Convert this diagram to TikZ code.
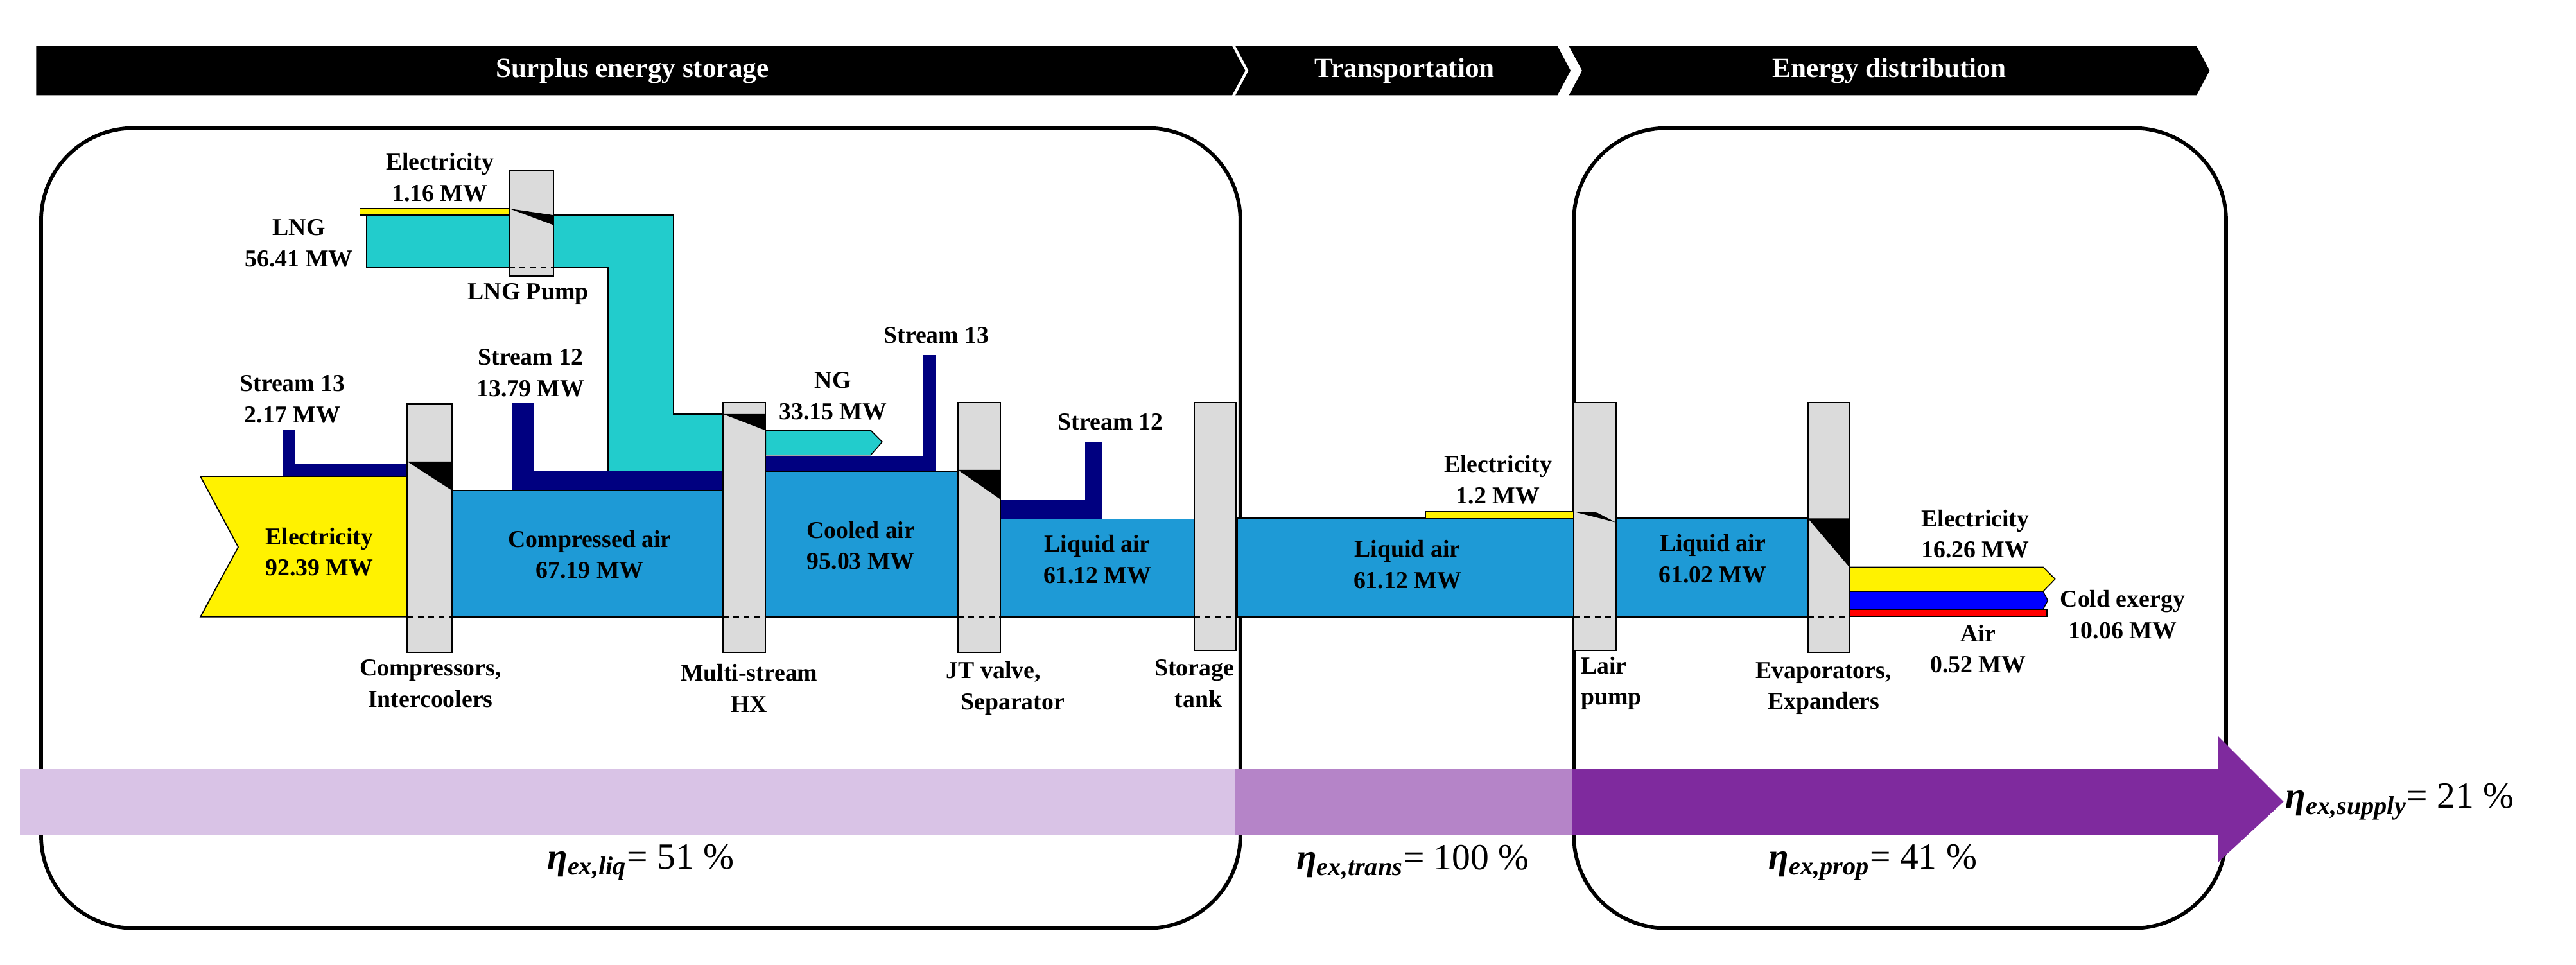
\documentclass[tikz,border=0pt]{standalone}
\usepackage{fontspec}
\setmainfont{Liberation Serif}
\newcommand{\etaq}[1]{{\bfseries\itshape η\textsubscript{#1}}}
\begin{document}
\begin{tikzpicture}[x={(0.025cm,0)},y={(0,-0.025cm)},
  lab/.style={align=center,font=\fontsize{10.5}{13.5}\selectfont\bfseries,inner sep=0pt},
  hdr/.style={font=\fontsize{12}{13}\selectfont\bfseries,text=white},
  eta/.style={font=\fontsize{16}{18}\selectfont,inner sep=0pt},
  col/.style={fill=gray!28,draw=black,line width=0.6pt},
  band/.style={fill=bandblue,draw=black,line width=0.5pt}]
\definecolor{bandblue}{HTML}{1E9AD6}
\definecolor{navy}{HTML}{000080}
\definecolor{cyanf}{HTML}{22CCCC}
\definecolor{p1}{HTML}{D9C3E6}
\definecolor{p2}{HTML}{B584C8}
\definecolor{p3}{HTML}{7F2A9E}
\useasboundingbox (0,0) rectangle (1568,587.4);
% header
\fill (22,28) -- (750,28) -- (758,43) -- (750,58) -- (22,58) -- cycle;
\fill (752,28) -- (948,28) -- (956,43) -- (948,58) -- (752,58) -- (760,43) -- cycle;
\fill (955,28) -- (1337,28) -- (1345,43) -- (1337,58) -- (955,58) -- (963,43) -- cycle;
\node[hdr] (h1) at (385,43) {Surplus energy storage};
\node[hdr] (h2) at (855,43) {Transportation};
\node[hdr] (h3) at (1150,43) {Energy distribution};
% boxes
\draw[line width=1.6pt,rounded corners=40] (25,78) rectangle (755,565);
\draw[line width=1.6pt,rounded corners=40] (958,78) rectangle (1355,565);
% purple arrow
\fill[p1] (12,468) rectangle (752,508);
\fill[p2] (752,468) rectangle (957,508);
\fill[p3] (957,468) -- (1350,468) -- (1350,448) -- (1390,488) -- (1350,525) -- (1350,508) -- (957,508) -- cycle;
% LNG
\fill[yellow] (219,127) rectangle (310,131);
\draw[line width=0.4pt] (219,127) rectangle (310,131);
\fill[cyanf] (223,131) -- (410,131) -- (410,252) -- (440,252) -- (440,287) -- (370,287) -- (370,163) -- (223,163) -- cycle;
\draw[line width=0.5pt] (223,131) -- (410,131) -- (410,252) -- (440,252);
\draw[line width=0.5pt] (223,131) -- (223,163) -- (370,163) -- (370,287);
% stream 13 small
\fill[navy] (172,262) rectangle (179.5,290);
\fill[navy] (172,282) rectangle (248,290);
% stream 12
\fill[navy] (311.6,245) rectangle (325,299);
\fill[navy] (311.6,287) rectangle (440,299);
% NG arrow
\fill[cyanf,draw=black,line width=0.4pt] (466,262) -- (530,262) -- (537,269) -- (530,277) -- (466,277) -- cycle;
% stream 13 after HX
\fill[navy] (466,278) rectangle (570,287);
\fill[navy] (562,216) rectangle (570,287);
% stream 12 after JT
\fill[navy] (609,304) rectangle (670.5,316);
\fill[navy] (660.5,269) rectangle (670.5,316);
% electricity in
\fill[yellow,draw=black,line width=0.5pt] (122,290) -- (248,290) -- (248,375.5) -- (122,375.5) -- (145,333) -- cycle;
% bands
\draw[band] (275,298.5) rectangle (440,375.5);
\draw[band] (466,287) rectangle (583,375.5);
\draw[band] (609,316) rectangle (728,375.5);
\draw[band] (753,315.5) rectangle (958,375.5);
\draw[band] (983.5,315.5) rectangle (1100.4,375.5);
\fill[yellow,draw=black,line width=0.4pt] (867.7,311.5) rectangle (958,315.5);
% outputs
\fill[yellow,draw=black,line width=0.4pt] (1125.7,345.2) -- (1243.6,345.2) -- (1250.9,352.5) -- (1243.6,360) -- (1125.7,360) -- cycle;
\fill[blue,draw=black,line width=0.4pt] (1125.7,360) -- (1243.6,360) -- (1246.5,365.5) -- (1243.6,371) -- (1125.7,371) -- cycle;
\fill[red,draw=black,line width=0.4pt] (1125.7,371) rectangle (1246,375.4);
% columns
\draw[col] (310,104) rectangle (337,168);
\draw[col] (248,246) rectangle (275,397);
\draw[col] (440,245) rectangle (466,397);
\draw[col] (583,245) rectangle (609,397);
\draw[col] (727,245) rectangle (752.5,396);
\draw[col] (958,245) rectangle (983.5,396);
\draw[col] (1100.4,245) rectangle (1125.7,397);
% wedges
\fill (310,127) -- (337,131) -- (337,137) -- cycle;
\fill (248,281) -- (275,281) -- (275,298.5) -- cycle;
\fill (440,252) -- (466,252) -- (466,262) -- cycle;
\fill (583,286) -- (609,286) -- (609,304) -- cycle;
\fill (958,311.5) -- (972,312) -- (983.5,318) -- cycle;
\fill (1100.4,315.5) -- (1125.7,315.5) -- (1125.7,345.2) -- cycle;
% dashed lines in columns
\foreach \a/\b/\yy in {310/337/163,248/275/375.5,440/466/375.5,583/609/375.5,727/752.5/375.5,958/983.5/375.5,1100.4/1125.7/375.5}
  \draw[dash pattern=on 2.5pt off 2pt,line width=0.5pt] (\a,\yy) -- (\b,\yy);
% labels
\node[lab] (l1) at (267.7,108) {Electricity\\1.16 MW};
\node[lab] (l2) at (182,148) {LNG\\56.41 MW};
\node[lab] (l3) at (321.5,179) {LNG Pump};
\node[lab] (l4) at (323,227) {Stream 12\\13.79 MW};
\node[lab] (l5) at (178,243) {Stream 13\\2.17 MW};
\node[lab] (l6) at (507,241) {NG\\33.15 MW};
\node[lab] (l7) at (570,204) {Stream 13};
\node[lab] (l8) at (676,257) {Stream 12};
\node[lab] (l9) at (194.4,336) {Electricity\\92.39 MW};
\node[lab] (l10) at (359,337.5) {Compressed air\\67.19 MW};
\node[lab] (l11) at (524,332) {Cooled air\\95.03 MW};
\node[lab] (l12) at (668,340.5) {Liquid air\\61.12 MW};
\node[lab] (l13) at (856.7,343.5) {Liquid air\\61.12 MW};
\node[lab] (l14) at (1042.5,340) {Liquid air\\61.02 MW};
\node[lab] (l15) at (911.8,292) {Electricity\\1.2 MW};
\node[lab] (l16) at (1202.3,325) {Electricity\\16.26 MW};
\node[lab] (l17) at (1292,374) {Cold exergy\\10.06 MW};
\node[lab] (l18) at (1204,395) {Air\\0.52 MW};
\node[lab] (l19) at (262,416) {Compressors,\\Intercoolers};
\node[lab] (l20) at (456,419) {Multi-stream\\HX};
\node[lab,align=left] (l21) at (612,419) {JT valve,\\\hspace*{0.6em}Separator};
\node[lab,align=right] (l22) at (727,416) {Storage\\tank\hspace*{0.5em}};
\node[lab,align=left,anchor=west] (l23) at (962,416) {Lair\\pump};
\node[lab] (l24) at (1110,419) {Evaporators,\\Expanders};
% etas
\node[eta] (e1) at (390,525) {\etaq{ex,liq}= 51 \%};
\node[eta] (e2) at (860,525) {\etaq{ex,trans}= 100 \%};
\node[eta] (e3) at (1140,525) {\etaq{ex,prop}= 41 \%};
\node[eta,anchor=west] (e4) at (1391,488) {\etaq{ex,supply}= 21 \%};
\end{tikzpicture}
\end{document}
